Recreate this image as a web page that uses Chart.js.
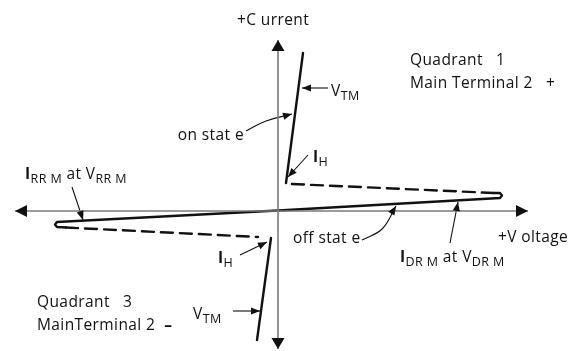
<!DOCTYPE html>
<html>
<head>
<meta charset="utf-8">
<script src="https://cdn.jsdelivr.net/npm/chart.js@4"></script>
<style>
html,body{margin:0;padding:0;background:#fff;}
#wrap{width:580px;height:351px;}
</style>
</head>
<body>
<div id="wrap"><canvas id="c" width="580" height="351"></canvas></div>
<script>
// ---- data (voltage / current, arbitrary units, origin at the axes crossing) ----
const axisVoltage = [-263, 250];
const axisCurrent = [-138, 171];

const q1OnV = [8, 25];
const q1OnI = [28, 158];
const q1HoldV = [14, 216];
const q1HoldI = [27, 18];

const offV = [216, 222, 224, 222, 0, -221, -223, -221, -212];
const offI = [18, 18, 15.5, 13, 0.5, -11, -13.5, -16, -16.5];

const q3HoldV = [-212, -20];
const q3HoldI = [-16.5, -26];
const q3OnV = [-7, -21];
const q3OnI = [-27, -129];

// annotation pointers (from -> tip)
const vtm1V = [50, 24], vtm1I = [123, 123];
const onStV = [-32, -12, 14], onStI = [80, 90, 97];
const ih1V = [30, 10], ih1I = [56, 34];
const irrmV = [-206, -195], irrmI = [24, -9];
const idrmV = [172, 180], idrmI = [-32, 9];
const offStV = [84, 104, 118], offStI = [-29, -18, 5];
const ih3V = [-38, -11], ih3I = [-44, -31];
const vtm3V = [-45, -18], vtm3I = [-100, -100];

const labelTexts = {
  current: '+C urrent',
  q1a: 'Quadrant   1',
  q1b: 'Main Terminal 2   +',
  onState: 'on stat e',
  voltage: '+V oltage',
  offState: 'off stat e',
  q3a: 'Quadrant   3',
  q3b: 'MainTerminal 2  ',
  q3sign: '–'
};

function pts(xs, ys){ return xs.map((x,i)=>({x:x, y:ys[i]})); }

const FONT = '"Open Sans", "Noto Sans", sans-serif';
const BLACK = '#111';
const AXIS = '#7a7a7a';

function curve(xs, ys, dash){
  return {data: pts(xs, ys), showLine:true, borderColor:BLACK, borderWidth:2.4,
          borderDash: dash || [], pointRadius:0, tension:0, borderCapStyle:'round', borderJoinStyle:'round'};
}
function pointer(xs, ys, tension){
  return {data: pts(xs, ys), showLine:true, borderColor:BLACK, borderWidth:1.1,
          pointRadius:0, tension: tension||0, arrow:{len:9, half:3.6, color:BLACK}};
}

const datasets = [
  {data: pts(axisVoltage,[0,0]), showLine:true, borderColor:AXIS, borderWidth:1.6, pointRadius:0,
   arrowBoth:{len:12, half:6, color:BLACK}},
  {data: pts([0,0],axisCurrent), showLine:true, borderColor:AXIS, borderWidth:1.6, pointRadius:0,
   arrowBoth:{len:11, half:6.5, color:BLACK}},
  curve(q1OnV, q1OnI),
  curve(q1HoldV, q1HoldI, [12,7]),
  curve(offV, offI),
  curve(q3HoldV, q3HoldI, [12,7]),
  curve(q3OnV, q3OnI),
  pointer(vtm1V, vtm1I),
  pointer(onStV, onStI, 0.4),
  pointer(ih1V, ih1I),
  pointer(irrmV, irrmI),
  pointer(idrmV, idrmI),
  pointer(offStV, offStI, 0.4),
  pointer(ih3V, ih3I),
  pointer(vtm3V, vtm3I)
];

// label layout (data units) : segments
const labels = [
  {x:-41, y:186, segs:[{t:labelTexts.current}]},
  {x:132, y:146, segs:[{t:labelTexts.q1a}]},
  {x:132, y:123, segs:[{t:labelTexts.q1b}]},
  {x:53, y:115, segs:[{t:'V'},{t:'TM',sub:true}]},
  {x:-34, y:71, align:'right', segs:[{t:labelTexts.onState}]},
  {x:35, y:49, segs:[{t:'I',bold:true},{t:'H',sub:true}]},
  {x:-253, y:32, segs:[{t:'I',bold:true},{t:'RR M',sub:true},{t:' at V'},{t:'RR M',sub:true}]},
  {x:220, y:-31, segs:[{t:labelTexts.voltage}]},
  {x:122, y:-51, segs:[{t:'I',bold:true},{t:'DR M',sub:true},{t:' at V'},{t:'DR M',sub:true}]},
  {x:15, y:-32, segs:[{t:labelTexts.offState}]},
  {x:-60, y:-52, segs:[{t:'I',bold:true},{t:'H',sub:true}]},
  {x:-241, y:-96, segs:[{t:labelTexts.q3a}]},
  {x:-241, y:-119, segs:[{t:labelTexts.q3b},{t:labelTexts.q3sign,bold:true}]},
  {x:-85, y:-108, segs:[{t:'V'},{t:'TM',sub:true}]}
];

function head(ctx, fx, fy, tx, ty, len, half, color){
  const a = Math.atan2(ty-fy, tx-fx);
  ctx.save();
  ctx.translate(tx, ty); ctx.rotate(a);
  ctx.beginPath();
  ctx.moveTo(0,0); ctx.lineTo(-len, -half); ctx.lineTo(-len, half); ctx.closePath();
  ctx.fillStyle = color; ctx.fill();
  ctx.restore();
}

const decor = {
  id:'decor',
  afterDatasetsDraw(chart){
    const ctx = chart.ctx;
    chart.data.datasets.forEach((ds, i)=>{
      const el = chart.getDatasetMeta(i).data;
      if (ds.arrow){
        const n = el.length;
        head(ctx, el[n-2].x, el[n-2].y, el[n-1].x, el[n-1].y, ds.arrow.len, ds.arrow.half, ds.arrow.color);
      }
      if (ds.arrowBoth){
        head(ctx, el[0].x, el[0].y, el[1].x, el[1].y, ds.arrowBoth.len, ds.arrowBoth.half, ds.arrowBoth.color);
        head(ctx, el[1].x, el[1].y, el[0].x, el[0].y, ds.arrowBoth.len, ds.arrowBoth.half, ds.arrowBoth.color);
      }
    });
    const sx = chart.scales.x, sy = chart.scales.y;
    ctx.save();
    ctx.fillStyle = '#111';
    ctx.textBaseline = 'alphabetic';
    try { ctx.letterSpacing = '0.4px'; } catch(e) {}
    labels.forEach(l=>{
      const fontOf = s => (s.bold ? '700 ' : '400 ') + (s.sub ? '12.5px ' : '15.5px ') + FONT;
      let w = 0;
      l.segs.forEach(s=>{ ctx.font = fontOf(s); w += ctx.measureText(s.t).width; });
      let px = sx.getPixelForValue(l.x);
      const py = sy.getPixelForValue(l.y);
      if (l.align === 'right') px -= w;
      l.segs.forEach(s=>{
        ctx.font = fontOf(s);
        ctx.fillText(s.t, px, py + (s.sub ? 4 : 0));
        px += ctx.measureText(s.t).width;
      });
    });
    ctx.restore();
  }
};

new Chart(document.getElementById('c'), {
  type:'scatter',
  data:{datasets},
  options:{
    responsive:false, animation:false, events:[],
    layout:{padding:0},
    plugins:{legend:{display:false}, tooltip:{enabled:false}},
    scales:{
      x:{type:'linear', min:-278, max:302, display:false},
      y:{type:'linear', min:-140, max:211, display:false}
    }
  },
  plugins:[decor]
});
</script>
</body>
</html>
